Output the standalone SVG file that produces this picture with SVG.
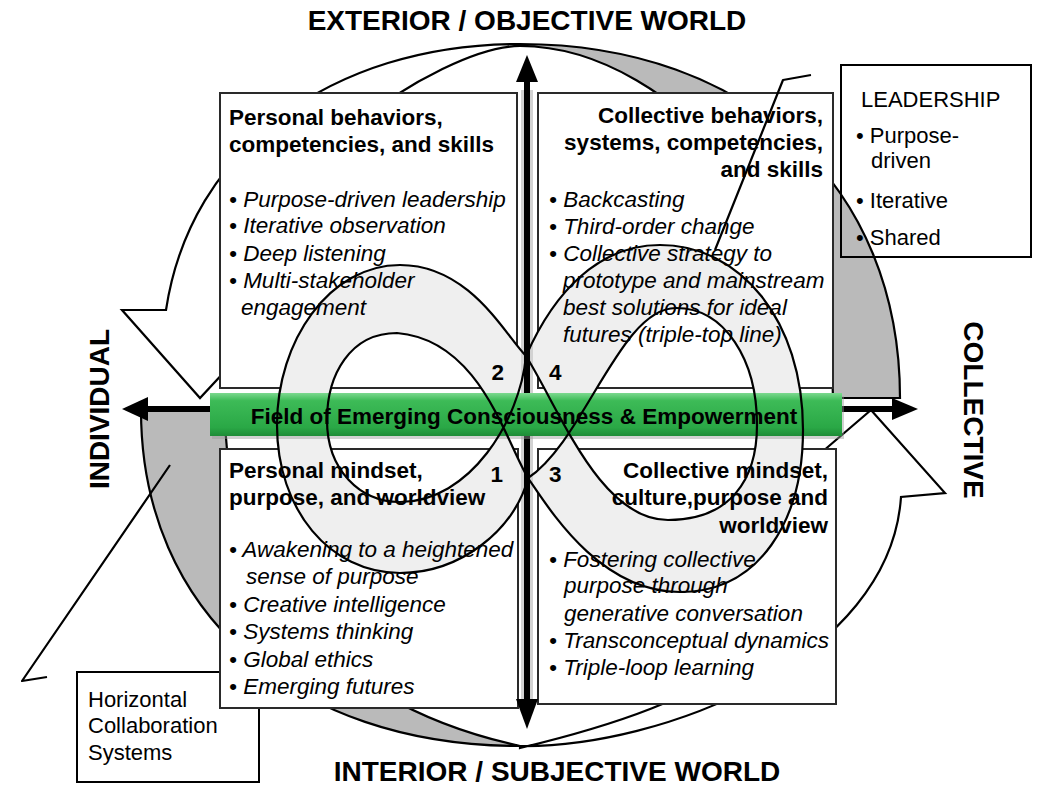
<svg xmlns="http://www.w3.org/2000/svg" width="1038" height="810" viewBox="0 0 1038 810">
<defs>
<style>
.t{font-family:"Liberation Sans",Arial,Helvetica,sans-serif;fill:#000}
.h{font-weight:bold;font-size:22.5px}
.b{font-style:italic;font-size:22.5px}
.ttl{font-weight:bold;font-size:28px}
.sd{font-size:22px}
.box{fill:#fff;stroke:#2a2a2a;stroke-width:2}
.ln{fill:none;stroke:#000;stroke-width:2.2;stroke-linejoin:round}
.arw{stroke:#000;stroke-width:2.2;stroke-linejoin:miter}
.gray{fill:#bababa}
.wht{fill:#fff}
</style>
<linearGradient id="gbar" x1="0" y1="0" x2="0" y2="1">
<stop offset="0" stop-color="#7cd98f"/>
<stop offset="0.18" stop-color="#3dbb57"/>
<stop offset="0.8" stop-color="#2aa846"/>
<stop offset="1" stop-color="#1e8c37"/>
</linearGradient>
</defs>
<rect width="1038" height="810" fill="#fff"/>

<g id="cycle-arrows">
<path class="arw gray" d="M520,44 C748,44 900,186 900,398 L833,398 C833,250 680,46 520,46 Z"/>
<path class="arw wht" d="M520,44 C330,44 190,150 166,310 L122,310 L200,398 L282,310 L234,310 C240,180 440,46 520,46 Z"/>
<path class="arw gray" d="M141,410 C141,612 293,746 520,746 C310,700 225,560 225,410 Z"/>
<path class="arw wht" d="M520,746 C660,748 890,660 901,497 L945,493 L871,410 L787,482 L831,485 C820,640 720,700 520,748 Z"/>
</g>

<g id="horizontal-collaboration">
<rect x="77" y="672" width="182" height="110" fill="#fff" stroke="#000" stroke-width="2"/>
<text class="t sd" x="88" y="707">Horizontal</text>
<text class="t sd" x="88" y="733">Collaboration</text>
<text class="t sd" x="88" y="760">Systems</text>
</g>

<g id="leadership">
<rect x="841" y="65" width="190" height="192" fill="none" stroke="#000" stroke-width="2"/>
<text class="t sd" x="861" y="107">LEADERSHIP</text>
<text class="t sd" x="856" y="143">• Purpose-</text>
<text class="t sd" x="871" y="168">driven</text>
<text class="t sd" x="856" y="208">• Iterative</text>
<text class="t sd" x="856" y="245">• Shared</text>
</g>

<g id="q2">
<rect class="box" x="220" y="93" width="297" height="295"/>
</g>
<g id="q4">
<rect class="box" x="538" y="93" width="295" height="295"/>
</g>
<g id="q1">
<rect class="box" x="220" y="449" width="298" height="259"/>
</g>
<g id="q3">
<rect class="box" x="538" y="449" width="298" height="255"/>
</g>

<g id="infinity-fill">
<path fill="#efefef" fill-rule="evenodd" d="M526,356 C505,335 470,265 400,265 C330,265 277,340 277,425 C277,510 330,573 400,573 C460,573 515,530 528,478 C550,510 600,592 680,592 C760,592 803,520 803,430 C803,320 740,245 660,245 C600,245 555,290 526,356 Z M528,478 C505,440 480,340 397,333 C350,333 327,375 327,420 C327,470 360,502 400,502 C470,502 520,420 526,356 Z M526,356 C560,410 600,520 668,520 C730,520 757,480 757,425 C757,360 725,308 676,308 C620,308 585,440 528,478 Z"/>
</g>

<g id="axes">
<line x1="527" y1="90" x2="527" y2="702" stroke="#d2d2d2" stroke-width="12"/>
<line x1="527" y1="76" x2="527" y2="702" stroke="#000" stroke-width="6"/>
<polygon points="527,55 516,82 538,82" fill="#000"/>
<polygon points="527,729 516,699 538,699" fill="#000"/>
<line x1="142" y1="409" x2="898" y2="409" stroke="#000" stroke-width="6"/>
<polygon points="122,409 148,397 148,421" fill="#000"/>
<polygon points="918,409 892,398 892,420" fill="#000"/>
</g>

<g id="field-bar">
<rect x="212" y="396" width="632" height="43" fill="#999" opacity="0.45"/>
<rect x="210" y="393" width="632" height="43" fill="url(#gbar)"/>
</g>

<g id="infinity-lines">
<path class="ln" d="M526,356 C505,335 470,265 400,265 C330,265 277,340 277,425 C277,510 330,573 400,573 C460,573 515,530 528,478 C550,510 600,592 680,592 C760,592 803,520 803,430 C803,320 740,245 660,245 C600,245 555,290 526,356"/>
<path class="ln" d="M528,478 C505,440 480,340 397,333 C350,333 327,375 327,420 C327,470 360,502 400,502 C470,502 520,420 526,356"/>
<path class="ln" d="M526,356 C560,410 600,520 668,520 C730,520 757,480 757,425 C757,360 725,308 676,308 C620,308 585,440 528,478"/>
</g>

<g id="labels">
<text class="t ttl" x="527" y="30" text-anchor="middle">EXTERIOR / OBJECTIVE WORLD</text>
<text class="t ttl" x="557" y="781" text-anchor="middle">INTERIOR / SUBJECTIVE WORLD</text>
<text class="t ttl" text-anchor="middle" transform="translate(109,409) rotate(-90)">INDIVIDUAL</text>
<text class="t ttl" text-anchor="middle" transform="translate(964,410) rotate(90)">COLLECTIVE</text>
<text class="t h" x="524" y="424" text-anchor="middle">Field of Emerging Consciousness &amp; Empowerment</text>
</g>

<g id="q2-text">
<text class="t h" x="229" y="125">Personal behaviors,</text>
<text class="t h" x="229" y="152">competencies, and skills</text>
<text class="t b" x="229" y="207">• Purpose-driven leadership</text>
<text class="t b" x="229" y="233">• Iterative observation</text>
<text class="t b" x="229" y="261">• Deep listening</text>
<text class="t b" x="229" y="288">• Multi-stakeholder</text>
<text class="t b" x="241" y="315">engagement</text>
<text class="t h" x="504" y="380" text-anchor="end">2</text>
</g>

<g id="q4-text">
<text class="t h" x="823" y="123" text-anchor="end">Collective behaviors,</text>
<text class="t h" x="823" y="150" text-anchor="end">systems, competencies,</text>
<text class="t h" x="823" y="177" text-anchor="end">and skills</text>
<text class="t b" x="549" y="207">• Backcasting</text>
<text class="t b" x="549" y="234">• Third-order change</text>
<text class="t b" x="549" y="261">• Collective strategy to</text>
<text class="t b" x="563" y="288">prototype and mainstream</text>
<text class="t b" x="563" y="315">best solutions for ideal</text>
<text class="t b" x="563" y="342">futures (triple-top line)</text>
<text class="t h" x="549" y="380">4</text>
</g>

<g id="q1-text">
<text class="t h" x="229" y="478">Personal mindset,</text>
<text class="t h" x="229" y="505">purpose, and worldview</text>
<text class="t h" x="503" y="482" text-anchor="end">1</text>
<text class="t b" x="229" y="557">• Awakening to a heightened</text>
<text class="t b" x="246" y="584">sense of purpose</text>
<text class="t b" x="229" y="612">• Creative intelligence</text>
<text class="t b" x="229" y="639">• Systems thinking</text>
<text class="t b" x="229" y="667">• Global ethics</text>
<text class="t b" x="229" y="694">• Emerging futures</text>
</g>

<g id="q3-text">
<text class="t h" x="549" y="482">3</text>
<text class="t h" x="828" y="478" text-anchor="end">Collective mindset,</text>
<text class="t h" x="828" y="505" text-anchor="end">culture,purpose and</text>
<text class="t h" x="828" y="533" text-anchor="end">worldview</text>
<text class="t b" x="549" y="567">• Fostering collective</text>
<text class="t b" x="564" y="593">purpose through</text>
<text class="t b" x="564" y="621">generative conversation</text>
<text class="t b" x="549" y="648">• Transconceptual dynamics</text>
<text class="t b" x="549" y="675">• Triple-loop learning</text>
</g>

<g id="connectors">
<polyline class="ln" points="811,75 783,80 715,250"/>
<polyline class="ln" points="47,677 22,681 170,465"/>
</g>
</svg>
